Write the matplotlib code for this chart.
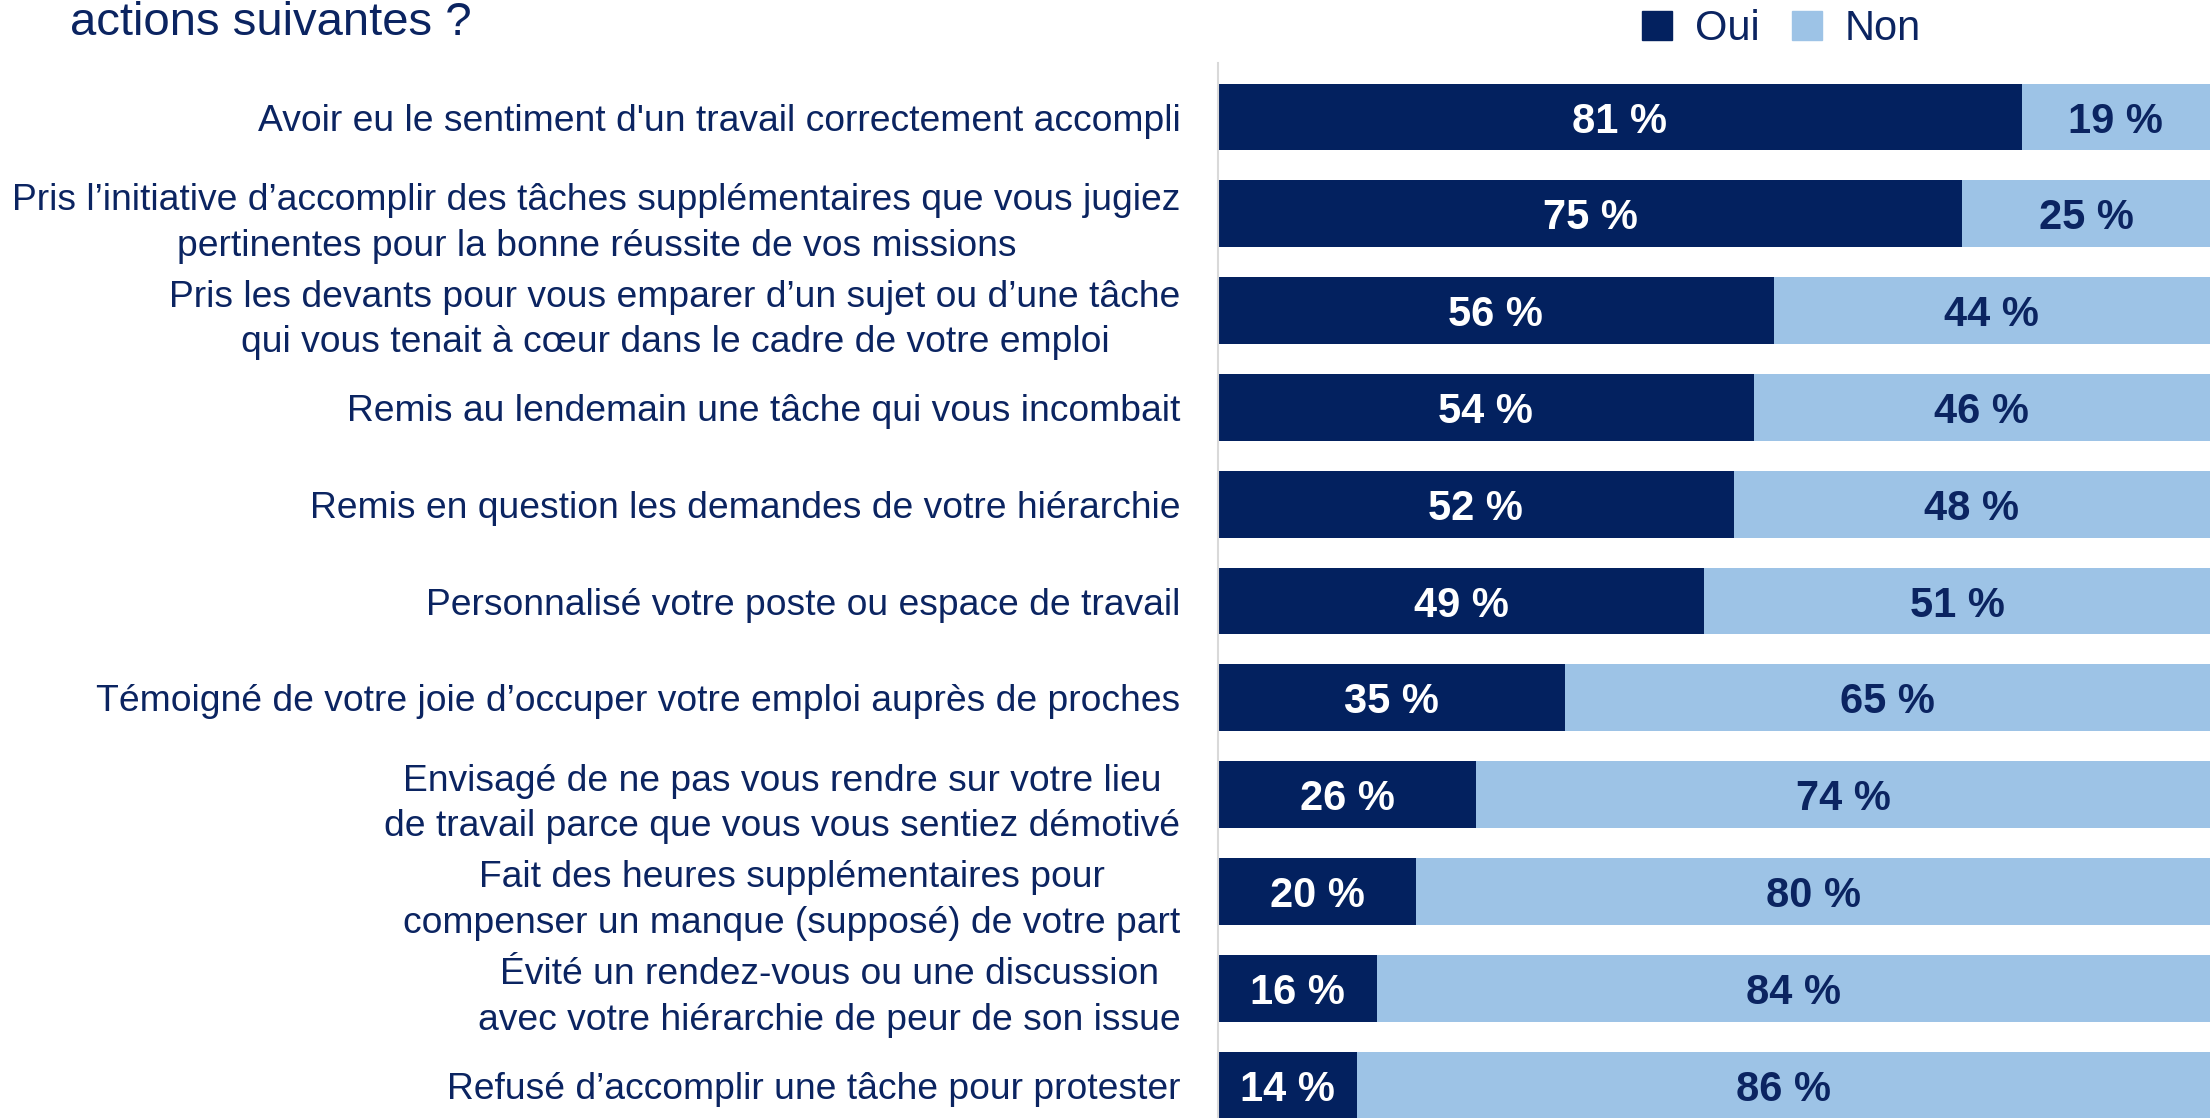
import matplotlib.pyplot as plt
from matplotlib.patches import Patch

plt.rcParams['font.family'] = ['Liberation Sans', 'DejaVu Sans']

# Data
labels = [
    "Avoir eu le sentiment d'un travail correctement accompli",
    "Pris l’initiative d’accomplir des tâches supplémentaires que vous jugiez\npertinentes pour la bonne réussite de vos missions",
    "Pris les devants pour vous emparer d’un sujet ou d’une tâche\nqui vous tenait à cœur dans le cadre de votre emploi",
    "Remis au lendemain une tâche qui vous incombait",
    "Remis en question les demandes de votre hiérarchie",
    "Personnalisé votre poste ou espace de travail",
    "Témoigné de votre joie d’occuper votre emploi auprès de proches",
    "Envisagé de ne pas vous rendre sur votre lieu\nde travail parce que vous vous sentiez démotivé",
    "Fait des heures supplémentaires pour\ncompenser un manque (supposé) de votre part",
    "Évité un rendez-vous ou une discussion\navec votre hiérarchie de peur de son issue",
    "Refusé d’accomplir une tâche pour protester",
]
oui = [81, 75, 56, 54, 52, 49, 35, 26, 20, 16, 14]
non = [19, 25, 44, 46, 48, 51, 65, 74, 80, 84, 86]

dark = '#03215F'
light = '#9DC3E6'
text_col = '#0B2461'

fig = plt.figure(figsize=(22.1, 11.18), dpi=100)
ax = fig.add_axes([1218 / 2210, 0, 1 - 1218 / 2210, 1 - 63 / 1118])

y = list(range(len(labels)))
ax.barh(y, oui, height=0.69, color=dark)
ax.barh(y, non, left=oui, height=0.69, color=light)

for i in y:
    ax.text(oui[i] / 2, i, f"{oui[i]} %", ha='center', va='center_baseline',
            color='white', fontsize=30, fontweight='bold')
    ax.text(oui[i] + non[i] / 2, i, f"{non[i]} %", ha='center', va='center_baseline',
            color=text_col, fontsize=30, fontweight='bold')

ax.set_xlim(0, 100)
ax.set_ylim(10.34, -0.558)
ax.set_yticks(y)
ax.set_yticklabels(labels, fontsize=26.8, color=text_col, multialignment='center',
                   linespacing=1.4)
ax.tick_params(axis='y', length=0, pad=27)
ax.set_xticks([])
for s in ['top', 'right', 'bottom']:
    ax.spines[s].set_visible(False)
ax.spines['left'].set_color('#D9D9D9')
ax.spines['left'].set_linewidth(1.5)

handles = [Patch(color=dark, label='Oui'), Patch(color=light, label='Non')]
fig.legend(handles=handles, loc='center left', bbox_to_anchor=(1642 / 2210, 1 - 29 / 1118),
           ncol=2, frameon=False, fontsize=30, handlelength=0.72, handleheight=0.72,
           handletextpad=0.55, columnspacing=0.77, borderpad=0, borderaxespad=0,
           labelcolor=text_col)

fig.text(70 / 2210, 1 - 35 / 1118, "actions suivantes ?", fontsize=34,
         color=text_col, va='baseline', ha='left')

fig.savefig('out.png', dpi=100)
